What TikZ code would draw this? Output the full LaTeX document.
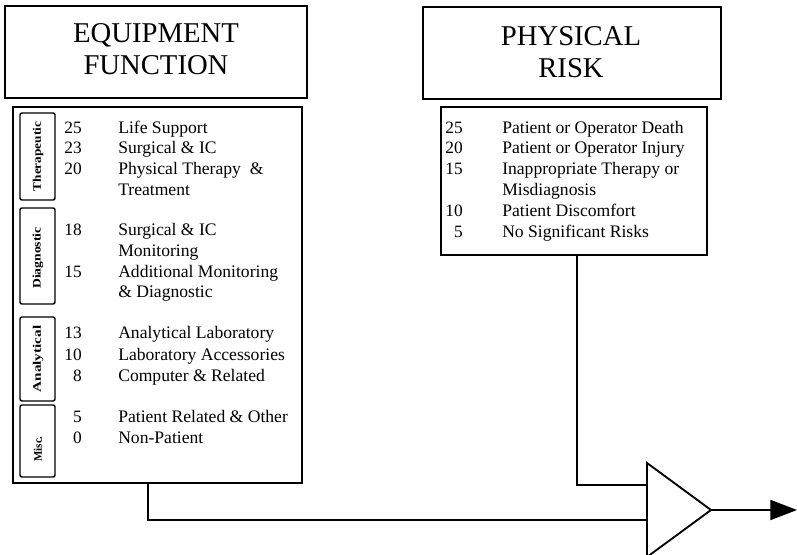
\documentclass[tikz,border=0pt]{standalone}
\usepackage{fontspec}
\setmainfont{Liberation Serif}
\usetikzlibrary{arrows.meta}
\newcommand\sidetag[2]{\resizebox{#1}{6pt}{\bfseries #2}}
\begin{document}
\begin{tikzpicture}[x=0.75pt,y=-0.75pt,
  titlebox/.style={draw,line width=1.7pt,inner sep=0pt,outer sep=0pt},
  listbox/.style={draw,line width=1.4pt,inner sep=0pt,outer sep=0pt},
  tagbox/.style={draw,line width=1.1pt,rounded corners=1.5pt,inner sep=0pt,outer sep=0pt,minimum width=26.25pt},
  titletext/.style={font=\fontsize{21.5}{24.4}\selectfont,align=center,inner sep=0pt},
  num/.style={anchor=base east,inner sep=0pt,font=\fontsize{13}{15}\selectfont},
  item/.style={anchor=base west,inner sep=0pt,font=\fontsize{13.2}{15}\selectfont},
  tagtext/.style={rotate=90,inner sep=0pt},
  wire/.style={line width=1.4pt},
  amp/.style={line width=1.4pt,line join=miter}]
\useasboundingbox (0,0) rectangle (797,555);

% title boxes
\node[titlebox,minimum width=226.5pt,minimum height=69pt] (eqtitle) at (156,52) {};
\node[titletext] (eqtitletext) at (156,49) {EQUIPMENT\\FUNCTION};
\node[titlebox,minimum width=223.5pt,minimum height=69pt] (risktitle) at (572,53) {};
\node[titletext] (risktitletext) at (571,52) {PHYSICAL\\RISK};

% list boxes
\node[listbox,minimum width=216.75pt,minimum height=282pt] (eqlist) at (157.5,295) {};
\node[listbox,minimum width=199.5pt,minimum height=111pt] (risklist) at (574,181) {};

% category tabs inside the equipment list
\node[tagbox,minimum height=65.25pt] (tther) at (37.5,156.5) {};
\node[tagtext] (ltther) at (38,156.5) {\sidetag{52pt}{Therapeutic}};
\node[tagbox,minimum height=72pt] (tdiag) at (37.5,256) {};
\node[tagtext] (ltdiag) at (38,258) {\sidetag{46pt}{Diagnostic}};
\node[tagbox,minimum height=63pt] (tanal) at (37.5,359) {};
\node[tagtext] (ltanal) at (38,359) {\sidetag{50pt}{Analytical}};
\node[tagbox,minimum height=54pt] (tmisc) at (37.5,441) {};
\node[tagtext] (ltmisc) at (38,449) {\sidetag{19pt}{Misc.}};

% equipment function scores
\foreach \n/\y/\s/\t in {e1/134/25/Life Support, e2/154/23/Surgical \& IC,
    e3/175/20/Physical Therapy \ \&, e5/236/18/Surgical \& IC,
    e7/278/15/Additional Monitoring, e8/339/13/Analytical Laboratory,
    e9/361/10/Laboratory Accessories, e10/382/8/Computer \& Related,
    e11/423/5/Patient Related \& Other, e12/444/0/Non-Patient}{
  \node[num] (n\n) at (82,\y) {\s};
  \node[item] (t\n) at (118,\y) {\t};
}
\foreach \n/\y/\t in {e4/196/Treatment, e6/257/Monitoring, e7b/298/\& Diagnostic}{
  \node[item] (t\n) at (118,\y) {\t};
}

% physical risk scores
\foreach \n/\y/\s/\t in {r1/134/25/Patient or Operator Death,
    r2/154/20/Patient or Operator Injury, r3/175/15/Inappropriate Therapy or,
    r5/217/10/Patient Discomfort, r6/238/5/No Significant Risks}{
  \node[num] (n\n) at (463,\y) {\s};
  \node[item] (t\n) at (502,\y) {\t};
}
\node[item] (tr4) at (502,196) {Misdiagnosis};

% combining element
\coordinate (ampA) at (647,463);
\coordinate (ampB) at (647,557);
\coordinate (ampOut) at (711,510);
\coordinate (ampIn1) at (647,485);
\coordinate (ampIn2) at (647,520);
\coordinate (outEnd) at (797,510);
\draw[amp] (ampA) -- (ampOut) -- (ampB) -- cycle;

% connectors
\draw[wire] (risklist.south -| 577,0) |- (ampIn1);
\draw[wire] (eqlist.south -| 148,0) |- (ampIn2);
\draw[wire,-{Triangle[length=20pt,width=15pt]}] (ampOut) -- (outEnd);
\end{tikzpicture}
\end{document}
